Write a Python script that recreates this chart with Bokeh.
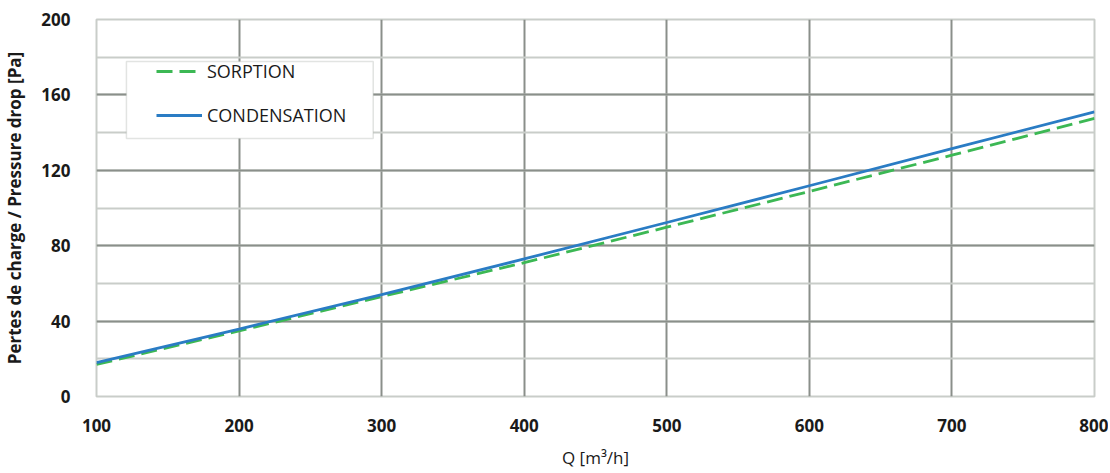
from bokeh.plotting import figure
from bokeh.models import Legend, LegendItem, SingleIntervalTicker, BoxAnnotation
from bokeh.embed import file_html
from bokeh.resources import INLINE

# Data
q = [100, 200, 300, 400, 500, 600, 700, 800]
sorption = [17.0, 34.8, 53.0, 71.0, 89.8, 108.8, 128.0, 147.5]
condensation = [18.0, 35.8, 54.0, 73.0, 92.3, 111.8, 131.5, 151.0]

FONT = "Open Sans"
GRID_DARK = "#8a8f8a"
GRID_LIGHT = "#c9cdc9"

p = figure(width=1108, height=473, output_backend="svg", toolbar_location=None,
           x_range=(100, 800), y_range=(0, 200),
           min_border_left=95, min_border_right=14, min_border_top=19, min_border_bottom=77)

p.outline_line_color = GRID_LIGHT
p.outline_line_width = 2
p.background_fill_color = "white"

p.xaxis.ticker = SingleIntervalTicker(interval=100, num_minor_ticks=0)
p.yaxis.ticker = SingleIntervalTicker(interval=40, num_minor_ticks=2)

p.xgrid.grid_line_color = GRID_DARK
p.xgrid.grid_line_width = 2
p.ygrid.grid_line_color = GRID_DARK
p.ygrid.grid_line_width = 2
p.ygrid.minor_grid_line_color = GRID_LIGHT
p.ygrid.minor_grid_line_width = 2

for ax in (p.xaxis, p.yaxis):
    ax.axis_line_color = None
    ax.major_tick_line_color = None
    ax.minor_tick_line_color = None
    ax.major_label_text_font = FONT
    ax.major_label_text_font_style = "bold"
    ax.major_label_text_font_size = "17px"
    ax.major_label_text_color = "#1a1a1a"
    ax.axis_label_text_font = FONT
    ax.axis_label_text_color = "#1a1a1a"

p.xaxis.major_label_standoff = 16
p.yaxis.major_label_standoff = 20
p.xaxis.axis_label = "Q [m³/h]"
p.xaxis.axis_label_text_font_style = "normal"
p.xaxis.axis_label_text_font_size = "17px"
p.xaxis.axis_label_standoff = 11
p.yaxis.axis_label = "Pertes de charge / Pressure drop [Pa]"
p.yaxis.axis_label_text_font_style = "bold"
p.yaxis.axis_label_text_font_size = "17px"
p.yaxis.axis_label_standoff = 12

r_s = p.line(q, sorption, line_color="#3cb854", line_width=2.8, line_dash="16 7")
r_c = p.line(q, condensation, line_color="#2a7cc4", line_width=2.8)

box = BoxAnnotation(left=121.0, right=294.1, top=177.7, bottom=136.9,
                    fill_color="white", fill_alpha=1.0,
                    line_color="#a0a4a0", line_width=1.5)
p.add_layout(box)

legend = Legend(items=[LegendItem(label="SORPTION", renderers=[r_s]),
                       LegendItem(label="CONDENSATION", renderers=[r_c])],
                location=(60, 269), padding=0, spacing=20, margin=0,
                border_line_color=None, background_fill_alpha=0,
                glyph_width=46, glyph_height=20, label_height=20,
                label_standoff=5, label_text_font=FONT,
                label_text_font_size="18px", label_text_color="#1a1a1a")
p.add_layout(legend)

open("out.html", "w").write(file_html(p, INLINE))
